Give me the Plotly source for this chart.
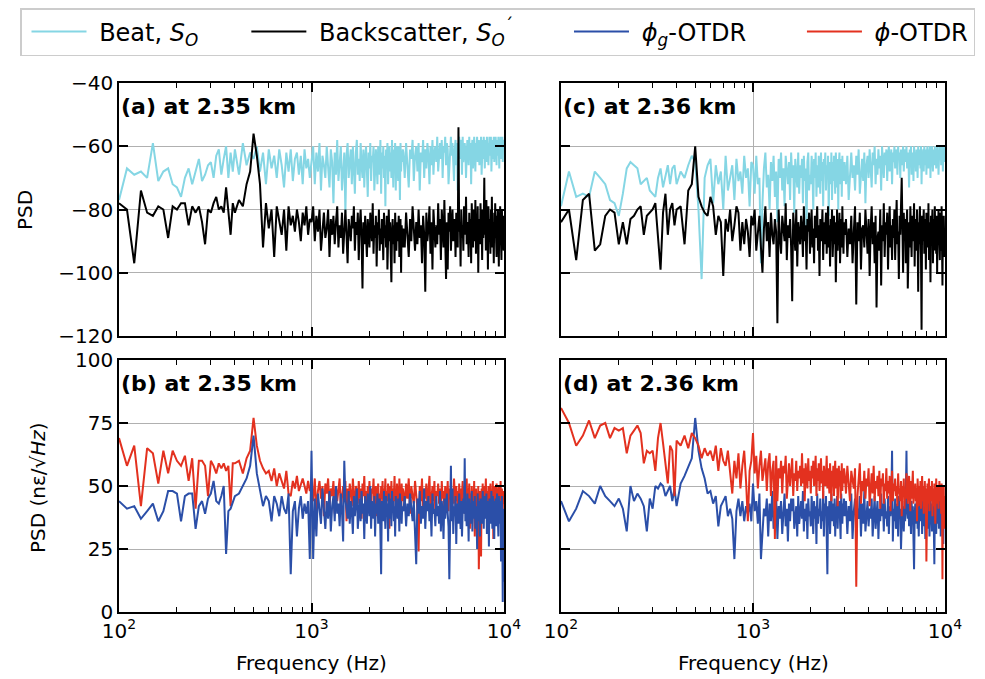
import plotly.graph_objects as go

# frequency grid (Hz)
freq = (list(range(100, 400, 10)) + list(range(400, 1000, 20))
        + list(range(1000, 3000, 20)) + list(range(3000, 10001, 50)))

# ---- panel (a) at 2.35 km : dB ----
beat_a = [-77,-67,-69,-68,-70,-59,-71,-68,-67,-72, -73,-76,-70,-67,-72,-68,-64,-71,-69,-66, -65,-70,-63,-61,-69,-64,-60,-70,-62,-68,
          -61,-69,-59,-66,-62,-64,-60,-68,-62,-72, -61,-67,-63,-70,-61,-66,-73,-62,-68,-61, -71,-64,-62,-69,-63,-72,-61,-67,-64,-70,
          -65,-60,-72,-62,-68,-59,-74,-63,-66,-70, -60,-67,-73,-61,-65,-78,-62,-69,-58,-71,
          -64,-60,-74,-66,-62,-81,-63,-59,-70,-65, -61,-72,-60,-67,-75,-62,-58,-69,-64,-71,
          -59,-66,-70,-61,-73,-64,-60,-68,-76,-62, -67,-59,-71,-63,-65,-60,-74,-68,-61,-66,
          -72,-60,-64,-69,-58,-75,-62,-67,-60,-70, -63,-79,-61,-66,-59,-72,-64,-60,-68,-62,
          -70,-58,-65,-73,-61,-67,-59,-74,-63,-60, -66,-71,-60,-64,-77,-59,-68,-62,-65,-61,
          -62,-70,-59,-66,-73,-61,-64,-58,-71,-63, -60,-68,-59,-74,-62,-65,-58,-70,-61,-67,
          -59,-63,-72,-60,-66,-58,-69,-62,-60,-65, -57,-68,-61,-59,-64,-58,-70,-60,-62,-57,
          -66,-59,-61,-72,-67,-60,-57,-63,-59,-65, -71,-61,-58,-66,-59,-74,-62,-57,-64,-60,
          -58,-69,-57,-65,-61,-59,-62,-70,-63,-58, -60,-66,-57,-64,-59,-72,-61,-58,-67,-60,
          -57,-63,-68,-59,-61,-57,-65,-60,-58,-66, -59,-62,-57,-69,-60,-58,-64,-57,-61,-67,
          -58,-60,-65,-57,-62,-59,-66,-58,-57,-63, -61,-57,-68,-59,-58,-64,-60,-57,-65,-58,
          -62,-57,-60,-66,-58,-59,-63,-57,-61,-67, -58,-60,-57,-64,-59,-62,-57,-65,-58,-60,
          -59]
back_a = [-78,-80,-97,-74,-81,-82,-79,-80,-89,-79, -80,-78,-78,-85,-79,-81,-79,-84,-91,-80, -81,-78,-76,-80,-79,-81,-73,-82,-88,-78,
          -81,-77,-79,-72,-68,-56,-63,-72,-92,-78, -86,-80,-95,-79,-84,-88,-80,-93,-79,-85, -82,-87,-80,-84,-90,-81,-85,-79,-88,-83,
          -84,-79,-90,-82,-87,-80,-93,-85,-81,-89, -86,-80,-95,-83,-88,-82,-91,-84,-79,-92,
          -85,-89,-81,-94,-86,-80,-88,-97,-83,-87, -90,-82,-86,-79,-93,-84,-88,-81,-96,-85,
          -80,-89,-105,-84,-91,-82,-87,-95,-83,-88, -92,-81,-86,-90,-78,-94,-85,-89,-82,-98,
          -84,-88,-80,-93,-86,-91,-83,-87,-96,-81, -89,-85,-92,-82,-99,-86,-80,-90,-84,-94,
          -103,-87,-83,-91,-85,-97,-81,-88,-93,-84, -90,-86,-82,-95,-88,-83,-100,-85,-89,-92,
          -86,-92,-81,-88,-95,-83,-90,-79,-87,-93, -84,-91,-80,-89,-85,-97,-82,-88,-106,-81,
          -90,-86,-79,-94,-84,-99,-80,-87,-92,-85, -91,-78,-88,-83,-96,-80,-86,-92,-77,-89,
          -102,-84,-99,-81,-87,-79,-93,-85,-80,-90, -88,-83,-95,-81,-86,-92,-54,-87,-84,-98,
          -80,-89,-85,-93,-79,-82,-88,-76,-91,-84, -87,-95,-81,-89,-83,-97,-78,-86,-92,-80,
          -85,-90,-77,-94,-84,-88,-79,-100,-83,-87, -91,-78,-86,-82,-96,-80,-89,-84,-70,-88,
          -81,-93,-77,-87,-85,-99,-79,-90,-83,-86, -94,-80,-88,-76,-92,-84,-87,-97,-81,-89,
          -78,-90,-85,-95,-82,-88,-80,-93,-98,-84, -87,-79,-91,-83,-96,-80,-86,-89,-82,-93,
          -85]

# ---- panel (c) at 2.36 km : dB ----
beat_c = [-79,-68,-76,-75,-76,-68,-70,-72,-77,-78, -82,-75,-67,-65,-66,-67,-72,-71,-70,-74, -75,-76,-70,-67,-73,-69,-66,-72,-67,-66,
          -72,-68,-70,-66,-63,-65,-80,-102,-70,-66, -64,-78,-66,-72,-68,-80,-63,-74,-70,-66, -77,-64,-71,-68,-75,-63,-70,-67,-79,-65,
          -66,-75,-63,-72,-70,-97,-78,-67,-62,-73, -69,-80,-65,-71,-63,-76,-68,-84,-64,-70,
          -62,-74,-67,-79,-63,-69,-72,-65,-77,-62, -70,-66,-81,-64,-68,-73,-62,-75,-66,-70,
          -64,-78,-63,-71,-67,-88,-65,-62,-74,-69, -72,-63,-68,-80,-64,-70,-62,-76,-66,-73,
          -63,-69,-75,-62,-71,-65,-79,-64,-67,-62, -74,-66,-70,-63,-82,-65,-68,-72,-62,-77,
          -65,-71,-63,-69,-75,-62,-67,-73,-64,-80, -66,-62,-72,-68,-64,-76,-63,-70,-65,-71,
          -65,-72,-63,-77,-68,-62,-70,-66,-74,-63, -69,-61,-75,-67,-64,-71,-62,-78,-66,-63,
          -70,-61,-68,-73,-62,-66,-60,-72,-64,-69, -61,-67,-63,-74,-60,-65,-70,-62,-66,-61,
          -71,-63,-60,-68,-64,-61,-72,-62,-65,-60, -67,-63,-61,-69,-60,-64,-62,-70,-61,-63,
          -66,-60,-68,-62,-61,-65,-60,-67,-62,-64, -73,-61,-66,-60,-69,-63,-62,-71,-60,-65,
          -62,-68,-61,-64,-70,-60,-66,-63,-61,-67, -60,-72,-62,-65,-61,-68,-60,-63,-66,-61,
          -69,-62,-60,-64,-67,-61,-63,-60,-70,-62, -65,-60,-63,-68,-61,-62,-66,-60,-64,-61,
          -67,-63,-60,-65,-62,-69,-61,-60,-64,-62, -60,-66,-61,-63,-60,-68,-62,-61,-65,-60,
          -63]
back_c = [-84,-80,-96,-77,-75,-93,-91,-82,-80,-81, -91,-84,-91,-83,-82,-80,-79,-88,-82,-81, -80,-78,-88,-99,-81,-75,-88,-80,-78,-85,
          -80,-79,-91,-74,-72,-60,-76,-79,-81,-82, -76,-79,-88,-82,-84,-101,-83,-87,-80,-90, -85,-79,-81,-93,-84,-91,-83,-87,-95,-82,
          -85,-80,-93,-88,-82,-92,-100,-86,-79,-90, -84,-95,-81,-88,-91,-83,-87,-116,-80,-89,
          -94,-82,-86,-90,-78,-96,-85,-89,-83,-92, -109,-81,-87,-93,-80,-98,-84,-88,-91,-82,
          -86,-95,-79,-90,-85,-99,-83,-87,-81,-94, -88,-80,-92,-86,-97,-82,-89,-84,-79,-93,
          -85,-101,-83,-90,-87,-80,-96,-84,-91,-86, -81,-94,-88,-79,-92,-85,-98,-83,-89,-80,
          -95,-86,-82,-91,-84,-103,-87,-80,-93,-85, -89,-81,-97,-86,-83,-92,-79,-88,-94,-84,
          -88,-83,-95,-86,-91,-82,-97,-87,-79,-110, -84,-90,-81,-99,-86,-85,-92,-80,-88,-94,
          -83,-101,-86,-79,-91,-84,-97,-82,-111,-89, -87,-93,-80,-104,-85,-90,-78,-95,-84,-88,
          -81,-99,-86,-79,-92,-85,-96,-83,-89,-80, -96,-84,-77,-91,-87,-102,-82,-88,-79,-70,
          -85,-100,-81,-89,-83,-97,-86,-80,-105,-88, -84,-92,-79,-87,-95,-82,-90,-86,-78,-98,
          -83,-89,-93,-80,-87,-106,-84,-91,-79,-88, -95,-118,-82,-90,-85,-80,-94,-87,-83,-99,
          -81,-89,-86,-92,-78,-96,-84,-88,-103,-82, -90,-85,-80,-97,-87,-83,-93,-79,-89,-86,
          -94,-82,-100,-85,-88,-80,-91,-84,-96,-81, -87,-93,-79,-89,-104,-84,-90,-82,-86,-95,
          -88]

# ---- panel (b) at 2.35 km : ne/sqrt(Hz) ----
red_b = [69,58,66,42,65,63,51,64,55,64, 60,58,62,52,61,41,60,60,58,46, 60,58,55,59,57,59,56,58,42,59,
         59,60,55,61,64,77,66,60,57,55, 56,52,57,50,55,52,49,56,47,46, 52,49,54,48,51,53,50,47,52,48,
         50,44,53,40,48,52,45,50,38,51, 47,53,42,49,46,52,39,50,44,48,
         53,41,47,50,45,52,36,49,44,51, 47,42,53,46,40,50,48,43,52,45,
         49,37,51,46,54,43,48,41,50,45, 52,44,39,49,47,53,42,46,50,38,
         48,51,43,47,35,50,45,52,41,49, 46,53,40,48,44,51,47,33,50,43,
         52,45,49,41,47,54,44,48,39,51, 46,50,42,53,45,48,37,51,44,49,
         48,42,51,45,53,39,50,46,43,52, 47,41,24,50,44,53,38,49,45,51,
         42,48,54,40,47,50,44,52,39,48, 46,51,43,49,37,52,45,48,41,50,
         47,44,52,40,49,45,51,38,48,43, 53,46,42,50,44,48,36,51,45,49,
         41,47,52,44,50,39,48,46,53,42, 49,45,51,33,47,43,50,40,48,44,
         52,30,46,49,41,47,38,50,17,45, 48,42,22,49,44,51,39,46,43,50,
         47,53,41,48,45,36,50,44,49,42, 51,46,40,48,43,52,29,47,45,50,
         42,48,44,51,38,46,49,43,50,45, 47,41,52,44,35,49,46,40,48,43,
         46]
blue_b = [44,41,42,37,40,43,36,40,48,48, 47,36,46,47,47,33,42,44,39,45, 47,52,44,43,46,50,23,40,41,44,
          46,47,50,53,58,70,55,48,42,46, 44,36,46,43,38,46,41,39,47,15, 40,44,30,41,46,37,43,39,44,21,
          64,21,45,30,47,41,35,49,40,33, 44,37,48,32,42,46,36,50,39,43,
          34,47,40,28,60,45,41,37,48,35, 44,40,31,46,38,42,49,33,41,45,
          36,48,39,43,29,46,40,35,47,42, 38,50,33,44,41,37,46,30,43,39,
          47,35,42,45,31,15,44,40,36,48, 41,33,46,39,43,28,47,37,42,45,
          34,48,40,44,36,42,30,46,39,43, 37,45,41,32,47,38,44,35,42,40,
          40,46,34,43,38,47,41,36,44,31, 19,45,39,48,35,42,37,49,33,44,
          40,46,36,43,30,47,39,41,34,46, 38,42,35,48,32,44,40,29,45,37,
          43,47,39,34,13,41,58,36,49,31, 42,38,46,27,43,40,35,47,38,33,
          44,30,40,45,39,61,36,42,34,47, 41,28,45,38,43,35,48,32,40,44,
          37,46,33,42,39,25,47,36,41,44, 30,45,38,43,35,48,40,33,46,37,
          42,39,47,31,44,36,41,26,45,38, 43,35,48,40,33,46,37,42,29,44,
          39,45,34,41,47,36,43,30,46,38, 42,35,44,20,40,46,33,4,38,12,
          41]

# ---- panel (d) at 2.36 km : ne/sqrt(Hz) ----
red_d = [81,75,66,70,76,69,74,75,69,73, 72,73,63,70,72,74,71,59,64,63, 64,56,69,75,67,58,51,66,64,46,
         68,66,70,65,71,69,66,61,65,62, 64,60,66,56,65,60,58,64,55,47, 60,53,63,49,58,64,52,36,56,60,
         71,55,62,49,58,64,52,57,61,48, 59,63,46,56,60,29,62,44,57,53,
         60,47,58,55,62,45,54,59,50,57, 61,46,55,52,60,48,56,53,58,50,
         63,51,57,44,59,54,49,61,52,56, 47,58,53,60,50,55,62,46,57,52,
         59,48,54,61,51,56,45,58,53,50, 55,62,49,57,52,47,59,54,44,56,
         51,58,46,55,60,49,53,57,42,54, 58,50,56,45,53,59,48,55,51,57,
         55,47,58,51,44,56,53,49,57,10, 46,54,59,43,52,48,56,45,53,50,
         57,42,51,55,47,58,44,52,49,54, 46,56,41,53,50,55,43,51,48,57,
         45,52,47,54,40,50,56,44,51,48, 53,46,50,42,55,47,49,44,52,38,
         50,46,53,41,48,45,55,51,43,49, 54,47,40,52,45,50,56,43,48,46,
         51,44,49,36,53,47,42,50,45,52, 41,48,54,44,50,39,47,52,43,49,
         20,46,51,43,48,53,40,47,45,50, 44,52,38,49,46,42,51,47,35,48,
         53,43,49,45,50,41,47,52,44,46, 49,39,51,45,13,48,43,50,33,46,
         42]
blue_d = [44,36,41,48,46,43,50,46,44,42, 45,41,32,50,44,47,45,42,32,45, 41,50,49,51,50,46,48,50,44,49,
          42,51,54,58,61,77,64,57,53,47, 48,43,46,34,42,44,46,38,41,37, 21,40,45,38,44,36,42,39,43,36,
          51,40,44,35,47,21,32,41,38,45, 30,43,36,48,33,40,46,29,42,37,
          44,31,39,47,34,41,28,43,36,45, 40,45,33,38,42,30,46,35,39,44,
          37,48,32,41,36,43,29,45,38,40, 34,46,39,31,44,37,42,27,47,35,
          41,38,45,33,40,36,48,30,43,39, 46,35,15,42,38,44,31,40,47,36,
          39,43,34,45,30,41,37,46,33,42, 38,44,36,29,47,40,35,43,39,45,
          38,44,31,42,36,47,29,40,45,33, 41,37,46,30,43,35,48,32,39,44,
          34,41,37,45,30,42,46,33,39,44, 29,41,36,47,38,43,32,45,37,40,
          34,46,31,42,38,44,64,28,41,36, 45,33,39,43,30,46,37,41,25,35,
          44,38,32,42,36,45,64,40,37,43, 34,47,39,31,44,36,42,28,17,38,
          43,35,41,46,33,39,30,44,37,42, 36,45,31,40,47,34,38,43,29,41,
          37,44,33,42,39,46,30,38,45,35, 41,32,43,37,46,34,19,40,36,44,
          31,42,38,45,35,40,33,47,37,43, 30,41,36,44,34,39,27,42,38,35,
          40]

for s in (beat_a, back_a, beat_c, back_c, red_b, blue_b, red_d, blue_d):
    assert len(s) == len(freq), (len(s), len(freq))

x_ticks = [100, 1000, 10000]
x_ticktext = ["10<sup>2</sup>", "10<sup>3</sup>", "10<sup>4</sup>"]
minor_vals = [v * m for m in (100, 1000) for v in range(2, 10)]

C_BEAT, C_BACK, C_BLUE, C_RED = "#85d6e4", "#000000", "#2b4fa8", "#e3311f"
FONT = "DejaVu Sans"
NB = "\u00a0"

fig = go.Figure()

def add(y, color, name, xa, ya, show, rank):
    fig.add_trace(go.Scatter(x=freq, y=y, mode="lines", name=name,
                             line=dict(color=color, width=2),
                             xaxis=xa, yaxis=ya, showlegend=show, legendrank=rank))

add(beat_a, C_BEAT, NB + "Beat, <i>S</i><sub><i>O</i></sub>" + NB * 5, "x", "y", True, 1)
add(back_a, C_BACK, NB + "Backscatter, <i>S</i><sub><i>O</i></sub><sup>´</sup>" + NB * 6, "x", "y", True, 2)
add(beat_c, C_BEAT, "beat c", "x2", "y2", False, 1)
add(back_c, C_BACK, "back c", "x2", "y2", False, 2)
add(red_b, C_RED, NB + "<i>ϕ</i>-OTDR", "x3", "y3", True, 4)
add(blue_b, C_BLUE, NB + "<i>ϕ</i><sub><i>g</i></sub>-OTDR" + NB * 6, "x3", "y3", True, 3)
add(blue_d, C_BLUE, "blue d", "x4", "y4", False, 3)
add(red_d, C_RED, "red d", "x4", "y4", False, 4)

W, H = 985, 679
OX, OY = 8, 8   # page offset of the plot div


def px(x):
    return (x - OX) / W


def py(y):
    return 1 - (y - OY) / H


left_dom = [px(119), px(504)]
right_dom = [px(561), px(945)]
top_dom = [py(336), py(83)]
bot_dom = [py(612), py(360)]


def xaxis(dom, anchor, labels):
    return dict(type="log", range=[2, 4], domain=dom, anchor=anchor,
                showline=True, linecolor="black", linewidth=1.5, mirror="ticks",
                ticks="inside", ticklen=9, tickwidth=1.5, tickcolor="black",
                tickvals=x_ticks, ticktext=x_ticktext, showticklabels=labels,
                tickfont=dict(size=20, color="black", family=FONT),
                showgrid=True, gridcolor="#b0b0b0", gridwidth=1.2, zeroline=False,
                automargin=False,
                minor=dict(tickvals=minor_vals, ticks="inside", ticklen=5,
                           tickwidth=1, tickcolor="black", showgrid=False))


def yaxis(dom, anchor, rng, dtick, labels):
    return dict(range=rng, domain=dom, anchor=anchor, dtick=dtick, tick0=0,
                showline=True, linecolor="black", linewidth=1.5, mirror="ticks",
                ticks="inside", ticklen=9, tickwidth=1.5, tickcolor="black",
                showticklabels=labels, automargin=False,
                tickfont=dict(size=20, color="black", family=FONT),
                showgrid=True, gridcolor="#b0b0b0", gridwidth=1.2, zeroline=False)


fig.update_layout(
    width=W, height=H, margin=dict(l=0, r=0, t=0, b=0, autoexpand=False),
    paper_bgcolor="white", plot_bgcolor="white",
    font=dict(family=FONT, size=20, color="black"),
    xaxis=xaxis(left_dom, "y", False),
    yaxis=yaxis(top_dom, "x", [-120, -40], 20, True),
    xaxis2=xaxis(right_dom, "y2", False),
    yaxis2=yaxis(top_dom, "x2", [-120, -40], 20, False),
    xaxis3=xaxis(left_dom, "y3", True),
    yaxis3=yaxis(bot_dom, "x3", [0, 100], 25, True),
    xaxis4=xaxis(right_dom, "y4", True),
    yaxis4=yaxis(bot_dom, "x4", [0, 100], 25, False),
    legend=dict(orientation="h", x=px(20), xanchor="left", y=py(8), yanchor="top",
                bordercolor="#cccccc", borderwidth=1.5, bgcolor="white",
                font=dict(size=24, family=FONT), itemwidth=55, indentation=5,
                entrywidth=0, traceorder="normal"),
)

labels = [("(a) at 2.35 km", "x domain", "y domain"),
          ("(c) at 2.36 km", "x2 domain", "y2 domain"),
          ("(b) at 2.35 km", "x3 domain", "y3 domain"),
          ("(d) at 2.36 km", "x4 domain", "y4 domain")]
for txt, xr, yr in labels:
    fig.add_annotation(text="<b>" + txt + "</b>", xref=xr, yref=yr, x=0.0, y=0.965,
                       xanchor="left", yanchor="top", showarrow=False,
                       font=dict(size=22, family=FONT, color="black"))

fig.add_annotation(text="PSD", xref="paper", yref="paper", x=px(25), y=py(210),
                   textangle=-90, showarrow=False, xanchor="center", yanchor="middle",
                   font=dict(size=20, family=FONT))
fig.add_annotation(text="PSD (nε/√<i>Hz</i>)", xref="paper", yref="paper", x=px(38), y=py(488),
                   textangle=-90, showarrow=False, xanchor="center", yanchor="middle",
                   font=dict(size=20, family=FONT))
for cx in (311, 753):
    fig.add_annotation(text="Frequency (Hz)", xref="paper", yref="paper", x=px(cx), y=py(663),
                       showarrow=False, xanchor="center", yanchor="middle",
                       font=dict(size=20, family=FONT))

fig.write_html("out.html")
